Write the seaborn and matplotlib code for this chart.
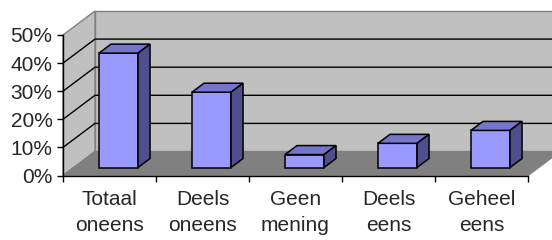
import matplotlib
matplotlib.use("Agg")
import matplotlib.pyplot as plt
from matplotlib.patches import Polygon, Rectangle
import seaborn as sns

# data
categories = ["Totaal\noneens", "Deels\noneens", "Geen\nmening", "Deels\neens", "Geheel\neens"]
values = [40.7, 26.8, 4.6, 8.6, 13.2]
yticks = [0, 10, 20, 30, 40, 50]

sns.set_style("white")
plt.rcParams["font.family"] = ["Liberation Sans", "DejaVu Sans"]

W, H = 552, 240
fig = plt.figure(figsize=(W / 100, H / 100), dpi=100)
# front plane of the plot: x 63..528 px, y 175.5..35 px (from top)
ax = fig.add_axes([63 / W, (H - 175.5) / H, 465 / W, 140.5 / H])
ax.set_xlim(-0.5, 4.5)
ax.set_ylim(0, 50)

sx = 465 / 5      # px per category
sy = 140.5 / 50   # px per percent

# depth of the box (back wall offset)
dX, dY = 32 / sx, 24 / sy
xr = (W - 63) / sx - 0.5   # right edge of figure in data units

wall = "#C0C0C0"
floor = "#808080"

# back wall
ax.add_patch(Rectangle((-0.5 + dX, dY), xr - (-0.5 + dX) + 0.2, 50, facecolor=wall,
                       edgecolor=floor, lw=1, clip_on=False, zorder=0))
# left wall
ax.add_patch(Polygon([(-0.5, 0), (-0.5, 50), (-0.5 + dX, 50 + dY), (-0.5 + dX, dY)],
                     closed=True, facecolor=wall, edgecolor=floor, lw=1, clip_on=False, zorder=0))
# floor
ax.add_patch(Polygon([(-0.5, 0), (4.5, 0), (4.5 + dX, dY), (-0.5 + dX, dY)],
                     closed=True, facecolor=floor, edgecolor=floor, lw=1, clip_on=False, zorder=1))
# gridlines
for v in yticks[1:-1]:
    ax.plot([-0.5, -0.5 + dX, xr + 0.2], [v, v + dY, v + dY], color="black", lw=1,
            clip_on=False, zorder=1)

# bars
sns.barplot(x=list(range(len(values))), y=values, color="#9999FF", saturation=1,
            width=0.42, edgecolor="black", linewidth=1.1, ax=ax, zorder=3, native_scale=True)

bx, by = 9 / sx, 8 / sy     # bar position inside the box
ddx, ddy = 12 / sx, 9 / sy  # bar depth
for p in list(ax.patches):
    if not isinstance(p, Rectangle) or p.get_zorder() != 3:
        continue
    x0 = p.get_x() + bx
    h = p.get_height()
    x1 = x0 + p.get_width()
    p.set_x(x0)
    p.set_y(by)
    p.set_clip_on(False)
    top = by + h
    ax.add_patch(Polygon([(x0, top), (x1, top), (x1 + ddx, top + ddy), (x0 + ddx, top + ddy)],
                         closed=True, facecolor="#7575CC", edgecolor="black", lw=1.1,
                         clip_on=False, zorder=3))
    ax.add_patch(Polygon([(x1, by), (x1, top), (x1 + ddx, top + ddy), (x1 + ddx, by + ddy)],
                         closed=True, facecolor="#4F4F8C", edgecolor="black", lw=1.1,
                         clip_on=False, zorder=3))

ax.set_xlim(-0.5, 4.5)
ax.set_ylim(0, 50)
for s in ["top", "right"]:
    ax.spines[s].set_visible(False)
for s in ["left", "bottom"]:
    ax.spines[s].set_color("black")
    ax.spines[s].set_linewidth(1)
    ax.spines[s].set_zorder(5)

ax.set_yticks(yticks)
ax.set_yticklabels([f"{v}%" for v in yticks])
ax.set_xticks(range(len(categories)))
ax.set_xticklabels(categories, linespacing=1.45)
ax.set_xticks([i - 0.5 for i in range(len(categories) + 1)], minor=True)
ax.tick_params(axis="y", length=4, width=1, color="black", pad=3.5, labelsize=15, left=True)
ax.tick_params(axis="x", which="major", length=0, pad=10.5, labelsize=15)
ax.tick_params(axis="x", which="minor", length=4.5, width=1, color="black", bottom=True)
ax.set_xlabel("")
ax.set_ylabel("")
ax.patch.set_alpha(0)

fig.savefig("out.png", dpi=100)
